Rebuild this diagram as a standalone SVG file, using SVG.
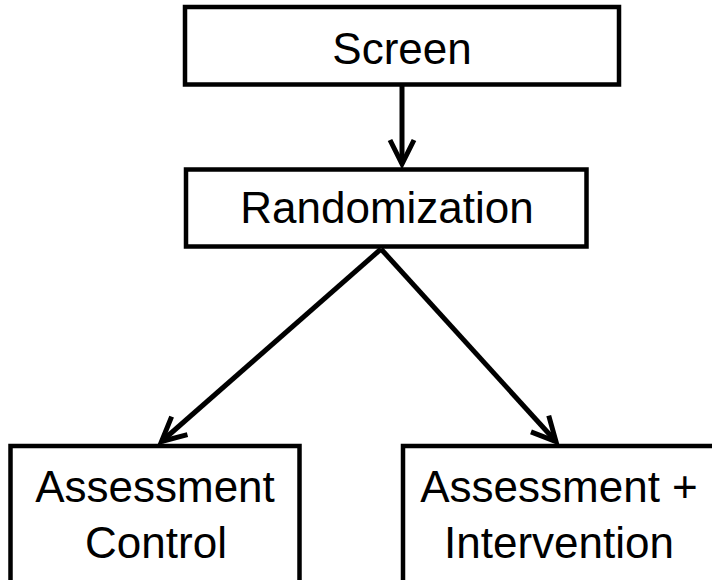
<svg xmlns="http://www.w3.org/2000/svg" width="712" height="580" viewBox="0 0 712 580">
<style>
.box{fill:#fff;stroke:#000;stroke-width:4.5}
.lbl{font-family:"Liberation Sans",Arial,sans-serif;font-size:44px;fill:#000;text-anchor:middle}
.conn{stroke:#000;stroke-width:5;fill:none}
</style>
<defs>
<marker id="arr" markerUnits="userSpaceOnUse" markerWidth="40" markerHeight="40" viewBox="-30 -20 40 40" refX="0" refY="0" orient="auto">
<path d="M-24,-12 L0,0 L-24,12" fill="none" stroke="#000" stroke-width="5" stroke-linejoin="miter"/>
</marker>
</defs>
<rect width="712" height="580" fill="#fff"/>
<g id="connectors">
<line class="conn" x1="402" y1="86" x2="402" y2="164" marker-end="url(#arr)"/>
<line class="conn" x1="381" y1="249" x2="161.5" y2="441.5" marker-end="url(#arr)"/>
<line class="conn" x1="381" y1="249" x2="556" y2="441.5" marker-end="url(#arr)"/>
</g>
<g id="screen">
<rect class="box" x="185" y="7" width="434" height="77.5"/>
<text class="lbl" x="402" y="64">Screen</text>
</g>
<g id="randomization">
<rect class="box" x="186" y="169.5" width="400.5" height="77"/>
<text class="lbl" x="387" y="223">Randomization</text>
</g>
<g id="control">
<rect class="box" x="10.5" y="446" width="289" height="150"/>
<text class="lbl" x="155" y="502">Assessment</text>
<text class="lbl" x="156" y="558">Control</text>
</g>
<g id="intervention">
<rect class="box" x="403" y="446" width="314" height="150"/>
<text class="lbl" x="559" y="502">Assessment +</text>
<text class="lbl" x="559" y="558">Intervention</text>
</g>
</svg>
